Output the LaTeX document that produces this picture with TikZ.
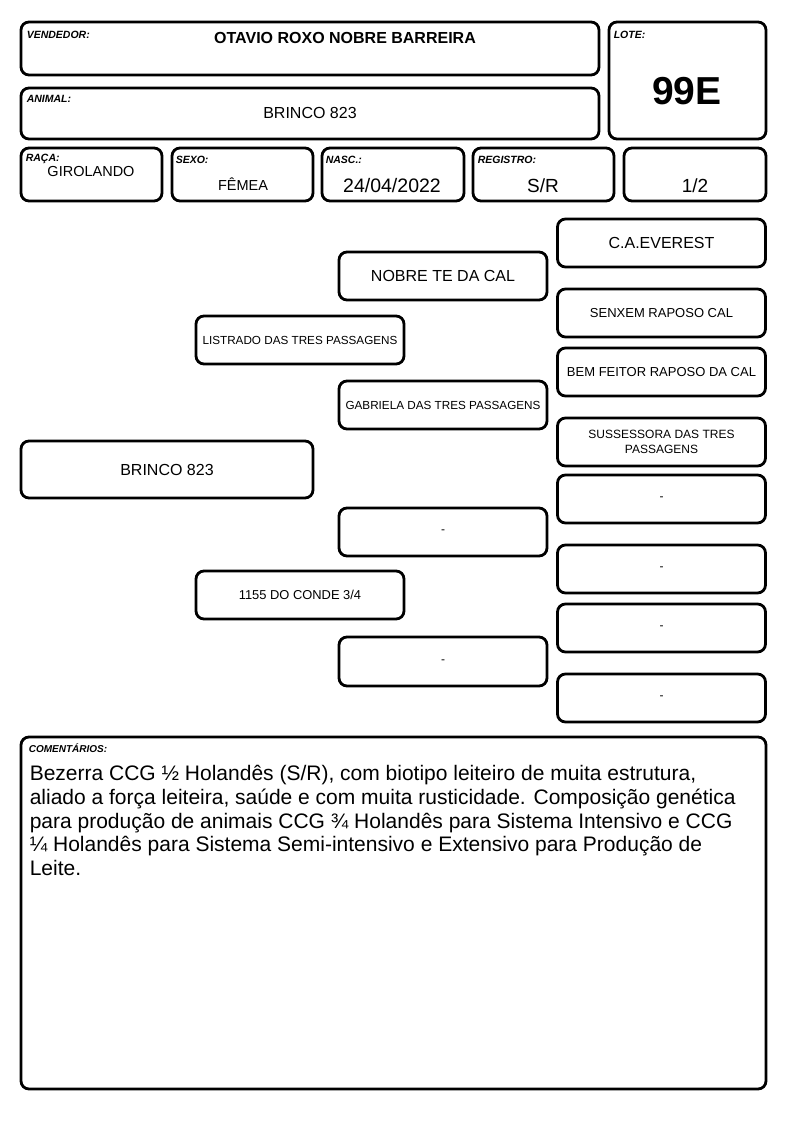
\documentclass[tikz,border=0pt]{standalone}
\usepackage{fontspec}
\setmainfont{Liberation Sans}
\usetikzlibrary{positioning}

\newcommand{\fsz}[1]{\fontsize{#1}{#1}\selectfont}

\begin{document}
\begin{tikzpicture}[
      x=1pt, y=-1pt,
      frame/.style={draw, line width=2.8pt, rounded corners=8pt, inner sep=0pt},
      pbox/.style={frame, minimum width=208pt, minimum height=48pt, align=center},
      lbl/.style={anchor=north west, inner sep=0pt, font=\fsz{10.5}\bfseries\itshape},
      val/.style={inner sep=0pt, font=\fsz{15}}
    ]
        \useasboundingbox[fill=white] (0,0) rectangle (794,1123);

        % header
        \node (vend) [frame, minimum width=578pt, minimum height=53pt] at (310,48.5) {};
        \node (anim) [frame, minimum width=578pt, minimum height=51pt] at (310,113.5) {};
        \node (lote) [frame, minimum width=157pt, minimum height=117pt] at (687.5,80.5) {};
        \node (raca) [frame, minimum width=141pt, minimum height=53pt] at (91.5,174.5) {};
        \node (sexo) [frame, minimum width=141pt, minimum height=53pt] at (242.5,174.5) {};
        \node (nasc) [frame, minimum width=142pt, minimum height=53pt] at (393,174.5) {};
        \node (reg) [frame, minimum width=141pt, minimum height=53pt] at (543.5,174.5) {};
        \node (frac) [frame, minimum width=142pt, minimum height=53pt] at (695,174.5) {};

        \node [lbl] at ([shift={(7,10.5)}]vend.north west) {VENDEDOR:};
        \node [lbl] at ([shift={(7,8.5)}]anim.north west) {ANIMAL:};
        \node [lbl] at ([shift={(6,10.5)}]lote.north west) {LOTE:};
        \node [lbl] at ([shift={(6,7.5)}]raca.north west) {RAÇA:};
        \node [lbl] at ([shift={(5,9.5)}]sexo.north west) {SEXO:};
        \node [lbl] at ([shift={(5,9.5)}]nasc.north west) {NASC.:};
        \node [lbl] at ([shift={(6,9.5)}]reg.north west) {REGISTRO:};

        \node (vendv) [val, font=\fsz{16}\bfseries] at (345,38) {OTAVIO ROXO NOBRE BARREIRA};
        \node (animv) [val, font=\fsz{16}] at (310,113) {BRINCO 823};
        \node (lotev) [val, font=\fsz{39}\bfseries] at (687,91) {99E};
        \node (racav) [val, font=\fsz{14.5}] at (91,172) {GIROLANDO};
        \node (sexov) [val, font=\fsz{14.5}] at (243,184) {FÊMEA};
        \node (nascv) [val, font=\fsz{19.5}] at (392,186) {24/04/2022};
        \node (regv) [val, font=\fsz{19}] at (543,186) {S/R};
        \node (fracv) [val, font=\fsz{19}] at (695,186) {1/2};

        % pedigree
        \node (anm) [pbox, minimum width=292pt, minimum height=57pt, font=\fsz{16}] at (167,469.5) {BRINCO 823};
        \node (pai) [pbox, font=\fsz{11.7}] at (300,340) {LISTRADO DAS TRES PASSAGENS};
        \node (mae) [pbox, font=\fsz{12.9}] at (300,595) {1155 DO CONDE 3/4};
        \node (avp) [pbox, font=\fsz{16}] at (443,276) {NOBRE TE DA CAL};
        \node (avpm) [pbox, font=\fsz{11.7}] at (443,405) {GABRIELA DAS TRES PASSAGENS};
        \node (avm) [pbox, font=\fsz{12}] at (443,532) {-};
        \node (avmm) [pbox, minimum height=49pt, font=\fsz{12}] at (443,661.5) {-};
        \node (b1) [pbox, font=\fsz{16}] at (661.5,243) {C.A.EVEREST};
        \node (b2) [pbox, font=\fsz{13}] at (661.5,313) {SENXEM RAPOSO CAL};
        \node (b3) [pbox, font=\fsz{13}] at (661.5,372) {BEM FEITOR RAPOSO DA CAL};
        \node (b4) [pbox, font=\fontsize{12}{15.5}\selectfont] at (661.5,442) {SUSSESSORA DAS TRES\\PASSAGENS};
        \node (b5) [pbox, font=\fsz{12}] at (661.5,499) {-};
        \node (b6) [pbox, font=\fsz{12}] at (661.5,569) {-};
        \node (b7) [pbox, font=\fsz{12}] at (661.5,628) {-};
        \node (b8) [pbox, font=\fsz{12}] at (661.5,698) {-};

        % comentarios
        \node (com) [frame, minimum width=745pt, minimum height=352pt] at (393.5,913) {};
        \node [lbl, font=\fsz{10}\bfseries\itshape] at ([shift={(9,8)}]com.north west) {COMENTÁRIOS:};
        \node (comv) [anchor=north west, inner sep=0pt, align=left, font=\fontsize{21}{23.8}\selectfont]
          at ([shift={(10,29.5)}]com.north west)
          {Bezerra CCG ½ Holandês (S/R), com biotipo leiteiro de muita estrutura,\\
           aliado a força leiteira, saúde e com muita rusticidade. Composição genética\\
           para produção de animais CCG ¾ Holandês para Sistema Intensivo e CCG\\
           ¼ Holandês para Sistema Semi-intensivo e Extensivo para Produção de\\
           Leite.};
    \end{tikzpicture}
\end{document}
